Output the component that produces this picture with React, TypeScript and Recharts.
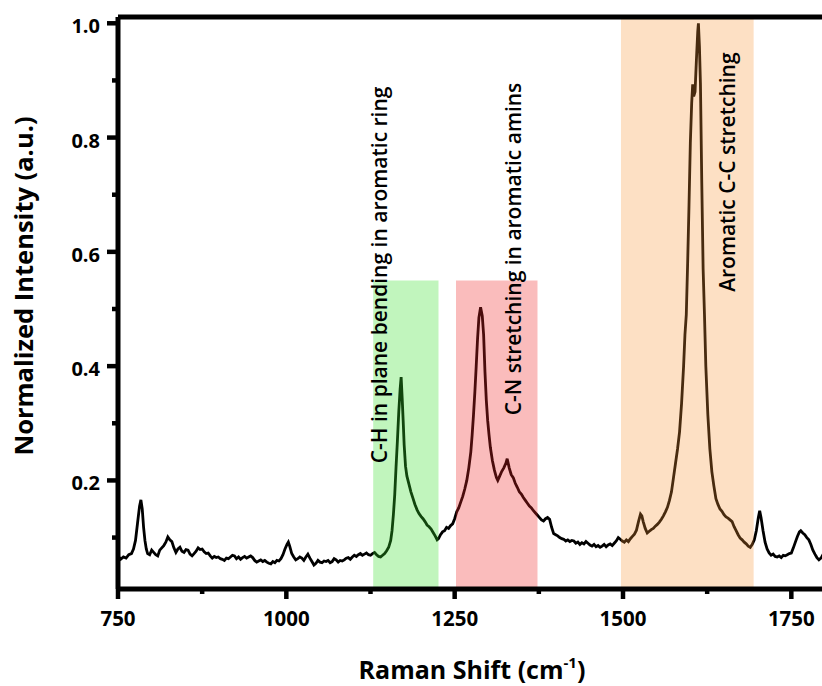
import { LineChart, Line, XAxis, YAxis, ReferenceArea, ReferenceLine, ReferenceDot } from 'recharts';

const ramanShift = [
  750, 754, 758, 762, 766, 770, 773, 776, 779, 782,
  784, 786, 788, 790, 792, 794, 797, 800, 803, 806,
  809, 812, 815, 818, 821, 824, 827, 830, 833, 836,
  839, 842, 845, 848, 851, 854, 857, 860, 863, 866,
  869, 872, 875, 878, 881, 884, 887, 890, 893, 896,
  899, 902, 905, 908, 911, 914, 917, 920, 923, 926,
  929, 932, 935, 938, 941, 944, 947, 950, 953, 956,
  959, 962, 965, 968, 971, 974, 977, 980, 983, 986,
  989, 992, 995, 998, 1001, 1003, 1005, 1008, 1011, 1014,
  1017, 1020, 1023, 1026, 1029, 1032, 1035, 1038, 1041, 1044,
  1047, 1050, 1053, 1056, 1059, 1062, 1065, 1068, 1071, 1074,
  1077, 1080, 1083, 1086, 1089, 1092, 1095, 1098, 1101, 1104,
  1107, 1110, 1113, 1116, 1119, 1122, 1125, 1128, 1131, 1134,
  1137, 1140, 1143, 1146, 1149, 1152, 1155, 1157, 1159, 1161,
  1163, 1165, 1167, 1169, 1170.5, 1172, 1173.5, 1175, 1177, 1179,
  1182, 1185, 1188, 1191, 1194, 1197, 1200, 1203, 1206, 1209,
  1212, 1215, 1218, 1221, 1224, 1226, 1229, 1232, 1235, 1238,
  1241, 1244, 1247, 1250, 1253, 1256, 1259, 1262, 1265, 1268,
  1271, 1274, 1276, 1278, 1280, 1282, 1284, 1286, 1288.5, 1291,
  1293, 1295, 1297, 1299, 1301, 1303, 1306, 1309, 1312, 1314,
  1317, 1320, 1323, 1326, 1328, 1331, 1334, 1337, 1340, 1343,
  1346, 1349, 1352, 1355, 1358, 1361, 1364, 1367, 1370, 1373,
  1376, 1379, 1382, 1385, 1388, 1391, 1394, 1397, 1400, 1403,
  1406, 1409, 1412, 1415, 1418, 1421, 1424, 1427, 1430, 1433,
  1436, 1439, 1442, 1445, 1448, 1451, 1454, 1457, 1460, 1463,
  1466, 1469, 1472, 1475, 1478, 1481, 1484, 1487, 1490, 1493,
  1496, 1499, 1502, 1505, 1508, 1511, 1514, 1517, 1520, 1523,
  1526, 1528, 1530, 1533, 1536, 1539, 1542, 1545, 1548, 1551,
  1554, 1557, 1560, 1563, 1566, 1569, 1572, 1575, 1578, 1581,
  1584, 1587, 1590, 1592, 1594, 1596, 1598, 1600, 1602, 1603.5,
  1605, 1607, 1609, 1611, 1612, 1613.5, 1615, 1617, 1619, 1621,
  1623, 1626, 1629, 1632, 1635, 1638, 1641, 1644, 1647, 1650,
  1653, 1656, 1659, 1662, 1665, 1668, 1671, 1674, 1677, 1680,
  1683, 1686, 1689, 1692, 1695, 1698, 1701, 1703, 1705, 1708,
  1711, 1714, 1717, 1720, 1723, 1726, 1729, 1732, 1735, 1738,
  1741, 1744, 1747, 1750, 1753, 1756, 1759, 1762, 1764, 1767,
  1770, 1773, 1776, 1779, 1782, 1785, 1788, 1791, 1794, 1797,
  1800,
];

const intensity = [
  0.068, 0.062, 0.066, 0.064, 0.070, 0.072, 0.080, 0.095, 0.125, 0.155,
  0.166, 0.150, 0.118, 0.095, 0.080, 0.072, 0.070, 0.078, 0.074, 0.070,
  0.068, 0.078, 0.082, 0.086, 0.092, 0.101, 0.096, 0.093, 0.082, 0.074,
  0.080, 0.083, 0.076, 0.074, 0.079, 0.078, 0.071, 0.068, 0.072, 0.076,
  0.082, 0.079, 0.080, 0.075, 0.072, 0.073, 0.068, 0.064, 0.067, 0.065,
  0.066, 0.063, 0.062, 0.060, 0.064, 0.063, 0.066, 0.069, 0.068, 0.063,
  0.066, 0.062, 0.065, 0.067, 0.064, 0.066, 0.068, 0.065, 0.060, 0.057,
  0.059, 0.061, 0.058, 0.060, 0.057, 0.055, 0.054, 0.058, 0.056, 0.060,
  0.059, 0.063, 0.070, 0.080, 0.088, 0.092, 0.085, 0.072, 0.066, 0.061,
  0.063, 0.066, 0.064, 0.060, 0.066, 0.071, 0.064, 0.058, 0.052, 0.055,
  0.060, 0.057, 0.056, 0.059, 0.058, 0.060, 0.056, 0.058, 0.063, 0.061,
  0.057, 0.060, 0.059, 0.061, 0.064, 0.065, 0.062, 0.066, 0.069, 0.067,
  0.070, 0.072, 0.069, 0.071, 0.073, 0.070, 0.069, 0.072, 0.074, 0.070,
  0.067, 0.066, 0.069, 0.072, 0.077, 0.083, 0.095, 0.112, 0.140, 0.175,
  0.225, 0.270, 0.320, 0.360, 0.381, 0.345, 0.305, 0.262, 0.225, 0.208,
  0.194, 0.180, 0.169, 0.158, 0.149, 0.142, 0.137, 0.133, 0.128, 0.122,
  0.119, 0.115, 0.109, 0.103, 0.096, 0.098, 0.105, 0.110, 0.112, 0.118,
  0.116, 0.121, 0.124, 0.133, 0.145, 0.152, 0.162, 0.172, 0.185, 0.200,
  0.222, 0.250, 0.280, 0.315, 0.355, 0.400, 0.448, 0.485, 0.503, 0.488,
  0.455, 0.390, 0.340, 0.305, 0.280, 0.258, 0.235, 0.218, 0.205, 0.200,
  0.208, 0.216, 0.222, 0.230, 0.238, 0.222, 0.210, 0.205, 0.195, 0.188,
  0.180, 0.176, 0.170, 0.165, 0.160, 0.155, 0.152, 0.147, 0.143, 0.139,
  0.135, 0.131, 0.129, 0.133, 0.135, 0.132, 0.118, 0.107, 0.105, 0.103,
  0.100, 0.098, 0.097, 0.094, 0.096, 0.093, 0.095, 0.094, 0.090, 0.092,
  0.088, 0.091, 0.089, 0.093, 0.090, 0.087, 0.085, 0.088, 0.084, 0.086,
  0.083, 0.085, 0.088, 0.084, 0.087, 0.089, 0.086, 0.090, 0.094, 0.100,
  0.097, 0.094, 0.092, 0.096, 0.093, 0.098, 0.102, 0.106, 0.113, 0.128,
  0.141, 0.138, 0.128, 0.116, 0.108, 0.111, 0.114, 0.116, 0.120, 0.123,
  0.127, 0.132, 0.138, 0.145, 0.153, 0.165, 0.180, 0.205, 0.230, 0.255,
  0.285, 0.335, 0.400, 0.455, 0.490, 0.580, 0.680, 0.790, 0.860, 0.893,
  0.872, 0.880, 0.935, 0.985, 1.000, 0.960, 0.895, 0.720, 0.570, 0.490,
  0.400, 0.315, 0.255, 0.215, 0.190, 0.168, 0.158, 0.150, 0.146, 0.140,
  0.136, 0.134, 0.131, 0.128, 0.119, 0.112, 0.105, 0.099, 0.096, 0.092,
  0.089, 0.085, 0.083, 0.088, 0.096, 0.112, 0.135, 0.147, 0.135, 0.112,
  0.092, 0.080, 0.073, 0.069, 0.071, 0.067, 0.066, 0.068, 0.065, 0.069,
  0.068, 0.070, 0.072, 0.073, 0.082, 0.092, 0.102, 0.110, 0.112, 0.108,
  0.105, 0.100, 0.096, 0.088, 0.078, 0.071, 0.065, 0.061, 0.064, 0.070,
  0.066,
];

const xTicks = [750, 875, 1000, 1125, 1250, 1375, 1500, 1625, 1750];
const xMajor = [750, 1000, 1250, 1500, 1750];
const yTicks = [0.1, 0.2, 0.3, 0.4, 0.5, 0.6, 0.7, 0.8, 0.9, 1.0];
const yMajor = [0.2, 0.4, 0.6, 0.8, 1.0];

const xMin = 750;
const xMax = 1800;
const yMin = 0.01;
const yMax = 1.011;

// shaded bands: start, end, top of each
const bandFrom = [1129, 1252, 1497];
const bandTo = [1226, 1373, 1694];
const bandTop = [0.55, 0.55, yMax];
const bandColors = ['#36df29', '#ef2727', '#f89434'];
const bandOpacity = [0.31, 0.31, 0.29];

const notes = [
  'C-H in plane bending in aromatic ring',
  'C-N stretching in aromatic amins',
  'Aromatic C-C stretching',
];
const noteX = [1137, 1337, 1655];
const noteY = [0.23, 0.314, 0.53];

const data = ramanShift.map((x, i) => ({ x, y: intensity[i] }));

const font = '"Open Sans", sans-serif';

function XTick(props: any) {
  const { x, y, payload } = props;
  const major = xMajor.includes(payload.value);
  return (
    <g>
      <line x1={x} x2={x} y1={y} y2={y + (major ? 10 : 5)} stroke="#000" strokeWidth={4.5} />
      {major && (
        <text x={x} y={y + 37} textAnchor="middle" fontFamily={font} fontSize={20.5} fontWeight={700} fill="#000">
          {payload.value}
        </text>
      )}
    </g>
  );
}

function YTick(props: any) {
  const { x, y, payload } = props;
  const major = yMajor.some((v) => Math.abs(v - payload.value) < 1e-6);
  return (
    <g>
      <line x1={x - (major ? 11 : 6)} x2={x} y1={y} y2={y} stroke="#000" strokeWidth={4.5} />
      {major && (
        <text x={x - 18} y={y + 10} textAnchor="end" fontFamily={font} fontSize={20} fontWeight={700} fill="#000">
          {payload.value.toFixed(1)}
        </text>
      )}
    </g>
  );
}

function noteLabel(text: string) {
  return (props: any) => {
    const vb = props.viewBox;
    const cx = vb.x + vb.width / 2;
    const cy = vb.y + vb.height / 2;
    return (
      <text
        x={cx}
        y={cy}
        transform={`rotate(-90 ${cx} ${cy})`}
        textAnchor="start"
        dominantBaseline="central"
        fontFamily={font}
        fontSize={21}
        fontWeight={600}
        fill="#000"
      >
        {text}
      </text>
    );
  };
}

export default function App() {
  return (
    <div style={{ position: 'fixed', left: 0, top: 0, width: 822, height: 686, overflow: 'hidden', background: '#fff' }}>
      <LineChart width={840} height={686} data={data} margin={{ top: 17, right: 15, bottom: 0, left: 0 }}>
        <XAxis
          dataKey="x"
          type="number"
          domain={[xMin, xMax]}
          allowDataOverflow
          ticks={xTicks}
          interval={0}
          tick={<XTick />}
          tickLine={false}
          tickSize={0}
          tickMargin={0}
          height={97}
          axisLine={{ stroke: '#000', strokeWidth: 5 }}
          label={() => (
            <text x={472} y={679} textAnchor="middle" fontFamily={font} fontSize={25} fontWeight={700} fill="#000">
              Raman Shift (cm
              <tspan fontSize={15} dy={-11}>-1</tspan>
              <tspan dy={11}>)</tspan>
            </text>
          )}
        />
        <YAxis
          type="number"
          domain={[yMin, yMax]}
          allowDataOverflow
          ticks={yTicks}
          interval={0}
          tick={<YTick />}
          tickLine={false}
          tickSize={0}
          tickMargin={0}
          width={118}
          axisLine={{ stroke: '#000', strokeWidth: 5 }}
          label={() => (
            <text
              x={33}
              y={286}
              transform="rotate(-90 33 286)"
              textAnchor="middle"
              fontFamily={font}
              fontSize={25.5}
              fontWeight={700}
              fill="#000"
            >
              Normalized Intensity (a.u.)
            </text>
          )}
        />
        <Line type="linear" dataKey="y" stroke="#000" strokeWidth={2.8} dot={false} isAnimationActive={false} />
        {bandFrom.map((from, i) => (
          <ReferenceArea
            key={i}
            x1={from}
            x2={bandTo[i]}
            y1={yMin}
            y2={bandTop[i]}
            fill={bandColors[i]}
            fillOpacity={bandOpacity[i]}
            stroke="none"
            zIndex={450}
          />
        ))}
        <ReferenceLine y={yMax} stroke="#000" strokeWidth={5} zIndex={500} />
        {notes.map((text, i) => (
          <ReferenceDot
            key={text}
            x={noteX[i]}
            y={noteY[i]}
            r={1}
            fill="none"
            stroke="none"
            label={noteLabel(text)}
            zIndex={700}
          />
        ))}
      </LineChart>
    </div>
  );
}
